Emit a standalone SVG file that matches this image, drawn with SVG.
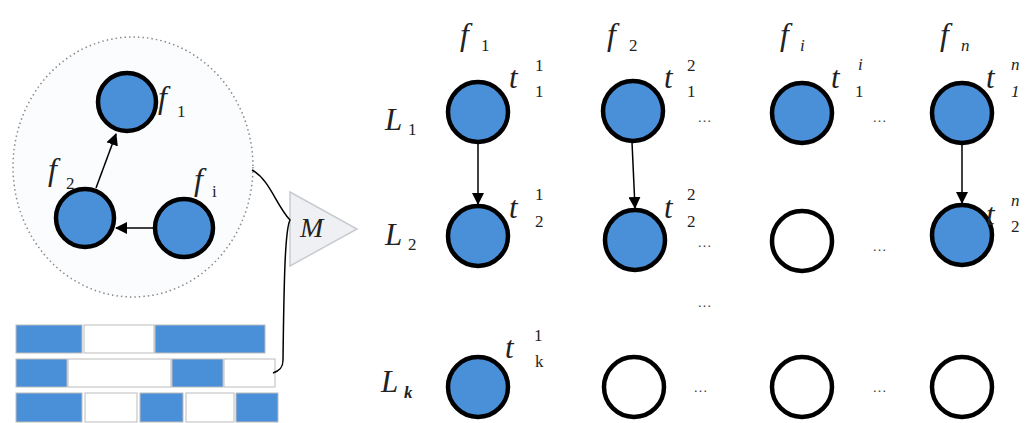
<svg xmlns="http://www.w3.org/2000/svg" width="1028" height="423" viewBox="0 0 1028 423">
<defs>
<style>
.n{fill:#4a90d8;stroke:#000;stroke-width:4.5}
.e{fill:#fff;stroke:#000;stroke-width:4.5}
.lbl{font-family:"Liberation Serif",serif;font-style:italic;fill:#222}
.sub{font-family:"Liberation Serif",serif;fill:#222;font-size:17px}
.dots{font-family:"Liberation Sans",sans-serif;fill:#444;font-size:15px}
.c{stroke:#000;stroke-width:1.5;fill:none}
.bb{fill:#4a90d8;stroke:#bbb;stroke-width:1}
.bw{fill:#fff;stroke:#bbb;stroke-width:1}
</style>
<marker id="ah" markerWidth="12" markerHeight="12" refX="11" refY="6" orient="auto" markerUnits="userSpaceOnUse" viewBox="0 0 12 12">
<path d="M0,0 L12,6 L0,12 Z" fill="#000"/>
</marker>
</defs>
<rect width="1028" height="423" fill="#fff"/>

<g id="cluster">
<ellipse cx="133" cy="167" rx="120" ry="130" fill="#fbfcfe" stroke="#8a8a8a" stroke-width="1.5" stroke-dasharray="1.5 3"/>
</g>
<g id="left-f1"><circle class="n" cx="127" cy="102" r="29"/>
<text class="lbl" x="158" y="108" font-size="32">f</text><text class="sub" x="177" y="117">1</text></g>
<g id="left-f2"><circle class="n" cx="85" cy="218" r="29"/>
<text class="lbl" x="48" y="180" font-size="32">f</text><text class="sub" x="66" y="189">2</text></g>
<g id="left-fi"><circle class="n" cx="184" cy="228" r="29"/>
<text class="lbl" x="194" y="190" font-size="32">f</text><text class="sub" x="212" y="197">i</text></g>

<g id="bricks">
<rect class="bb" x="16" y="325" width="66" height="28"/>
<rect class="bw" x="84" y="325" width="70" height="28"/>
<rect class="bb" x="155" y="325" width="110" height="28"/>
<rect class="bb" x="16" y="359" width="51" height="28"/>
<rect class="bw" x="68" y="359" width="103" height="28"/>
<rect class="bb" x="172" y="359" width="51" height="28"/>
<rect class="bw" x="224" y="359" width="51" height="28"/>
<rect class="bb" x="16" y="393" width="66" height="29"/>
<rect class="bw" x="85" y="393" width="52" height="29"/>
<rect class="bb" x="140" y="393" width="43" height="29"/>
<rect class="bw" x="186" y="393" width="48" height="29"/>
<rect class="bb" x="236" y="393" width="42" height="29"/>
</g>

<g id="M">
<path d="M290,192 L357,229 L290,266 Z" fill="#eef0f3" stroke="#c8cbd0" stroke-width="1.5"/>
<text class="lbl" x="300" y="237" font-size="28">M</text>
</g>

<g id="connectors">
<line class="c" x1="96" y1="188" x2="116" y2="134" marker-end="url(#ah)"/>
<line class="c" x1="154" y1="228" x2="116" y2="228" marker-end="url(#ah)"/>
<path class="c" d="M252,170 C270,180 276,205 290,220 C285,230 284,280 283,360 C283,368 279,371 273,373"/>
<line class="c" x1="478" y1="144" x2="478" y2="204" marker-end="url(#ah)"/>
<line class="c" x1="632" y1="142" x2="635" y2="208" marker-end="url(#ah)"/>
<line class="c" x1="962" y1="145" x2="962" y2="203" marker-end="url(#ah)"/>
</g>

<g id="headers">
<text class="lbl" x="460" y="45" font-size="32">f</text><text class="sub" x="481" y="51">1</text>
<text class="lbl" x="607" y="45" font-size="32">f</text><text class="sub" x="629" y="51">2</text>
<text class="lbl" x="780" y="45" font-size="32">f</text><text class="sub lbl" x="800" y="51">i</text>
<text class="lbl" x="940" y="45" font-size="32">f</text><text class="sub lbl" x="961" y="51">n</text>
</g>

<g id="rows">
<text class="lbl" x="385" y="130" font-size="31">L</text><text class="sub" x="408" y="135">1</text>
<text class="lbl" x="385" y="245" font-size="31">L</text><text class="sub" x="408" y="250">2</text>
<text class="lbl" x="381" y="392" font-size="31">L</text><text class="sub" x="404" y="398" font-weight="bold" font-style="italic" font-size="15">k</text>
</g>

<g id="n-1-1"><circle class="n" cx="478" cy="112" r="30"/>
<text class="lbl" x="509" y="88" font-size="31">t</text><text class="sub" x="535" y="71">1</text><text class="sub" x="535" y="97">1</text></g>
<g id="n-2-1"><circle class="n" cx="633" cy="111" r="30"/>
<text class="lbl" x="664" y="88" font-size="31">t</text><text class="sub" x="687" y="71">2</text><text class="sub" x="687" y="97">1</text></g>
<g id="n-i-1"><circle class="n" cx="802" cy="113" r="30"/>
<text class="lbl" x="831" y="88" font-size="31">t</text><text class="sub lbl" x="858" y="70">i</text><text class="sub" x="855" y="97">1</text></g>
<g id="n-n-1"><circle class="n" cx="962" cy="113" r="30"/>
<text class="lbl" x="986" y="88" font-size="31">t</text><text class="sub lbl" x="1011" y="70">n</text><text class="sub lbl" x="1011" y="97">1</text></g>

<g id="n-1-2"><circle class="n" cx="478" cy="236" r="30"/>
<text class="lbl" x="509" y="218" font-size="31">t</text><text class="sub" x="535" y="200">1</text><text class="sub" x="535" y="227">2</text></g>
<g id="n-2-2"><circle class="n" cx="635" cy="240" r="30"/>
<text class="lbl" x="664" y="218" font-size="31">t</text><text class="sub" x="687" y="200">2</text><text class="sub" x="687" y="227">2</text></g>
<g id="n-i-2"><circle class="e" cx="802" cy="241" r="30"/></g>
<g id="n-n-2"><circle class="n" cx="962" cy="235" r="30"/>
<text class="lbl" x="986" y="225" font-size="31">t</text><text class="sub lbl" x="1011" y="206">n</text><text class="sub" x="1011" y="232">2</text></g>

<g id="n-1-k"><circle class="n" cx="478" cy="387" r="30"/>
<text class="lbl" x="505" y="358" font-size="31">t</text><text class="sub" x="534" y="341">1</text><text class="sub" x="535" y="367" font-size="13">k</text></g>
<g id="n-2-k"><circle class="e" cx="634" cy="387" r="30"/></g>
<g id="n-i-k"><circle class="e" cx="802" cy="387" r="30"/></g>
<g id="n-n-k"><circle class="e" cx="962" cy="387" r="30"/></g>

<g id="ellipses">
<text class="dots" x="697" y="122">…</text>
<text class="dots" x="872" y="122">…</text>
<text class="dots" x="697" y="247">…</text>
<text class="dots" x="872" y="251">…</text>
<text class="dots" x="697" y="307">…</text>
<text class="dots" x="693" y="392">…</text>
<text class="dots" x="872" y="392">…</text>
</g>
</svg>
